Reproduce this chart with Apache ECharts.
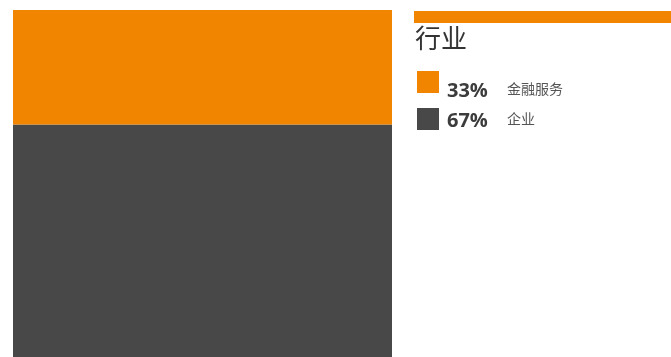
<!DOCTYPE html>
<html>
<head>
<meta charset="utf-8">
<script src="https://cdn.jsdelivr.net/npm/echarts@6/dist/echarts.min.js"></script>
<style>
  html, body { margin: 0; padding: 0; background: #fff; }
  #chart { width: 671px; height: 357px; }
</style>
</head>
<body>
<div id="chart"></div>
<script>
// Industry breakdown (percent of total)
const categories = ['行业'];
const sectorNames = ['金融服务', '企业'];
const sectorValues = [33, 67];
const sectorColors = ['#F28500', '#484848'];
const titleText = '行业';

const chart = echarts.init(document.getElementById('chart'), null, { renderer: 'canvas' });

// Stack order: 企业 at the bottom, 金融服务 on top
const stackOrder = [1, 0];
const series = stackOrder.map(i => ({
  name: sectorNames[i],
  type: 'bar',
  stack: 'total',
  barWidth: '100%',
  itemStyle: { color: sectorColors[i] },
  data: [sectorValues[i]],
  silent: true
}));

// Legend block on the right
const fontCJK = '"Noto Sans CJK SC", "Noto Sans", sans-serif';
const legendGraphics = [];
legendGraphics.push({
  type: 'rect',
  shape: { x: 414, y: 11, width: 257, height: 12 },
  style: { fill: sectorColors[0] }
});
const squareTops = [71, 108];
const textMids = [91, 121];
sectorNames.forEach((name, i) => {
  legendGraphics.push({
    type: 'rect',
    shape: { x: 417, y: squareTops[i], width: 22, height: 22 },
    style: { fill: sectorColors[i] }
  });
  legendGraphics.push({
    type: 'text',
    x: 447, y: textMids[i],
    style: {
      text: sectorValues[i] + '%',
      fill: '#3c3c3c',
      font: 'bold 20px "Open Sans", "Noto Sans", sans-serif',
      textVerticalAlign: 'middle'
    }
  });
  legendGraphics.push({
    type: 'text',
    x: 507, y: textMids[i] - 2,
    style: {
      text: name,
      fill: '#555555',
      font: '14px ' + fontCJK,
      textVerticalAlign: 'middle'
    }
  });
});

chart.setOption({
  animation: false,
  title: {
    text: titleText,
    left: 415,
    top: 25,
    padding: 0,
    textStyle: { fontSize: 26, fontWeight: 'normal', color: '#333333', fontFamily: fontCJK }
  },
  grid: { left: 13, right: 279, top: 10, bottom: 0, containLabel: false },
  xAxis: {
    type: 'category',
    data: categories,
    show: false
  },
  yAxis: {
    type: 'value',
    min: 0,
    max: 100,
    show: false
  },
  series: series,
  graphic: legendGraphics
});
</script>
</body>
</html>
